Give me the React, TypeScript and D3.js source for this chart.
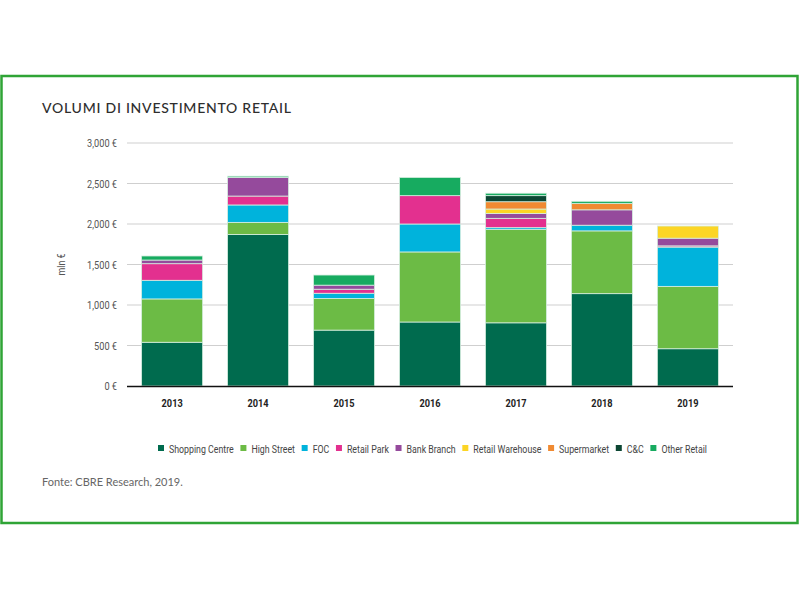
import React, { useEffect, useRef } from "react";
import * as d3 from "d3";

const years = ["2013", "2014", "2015", "2016", "2017", "2018", "2019"];
const seriesNames = [
  "Shopping Centre",
  "High Street",
  "FOC",
  "Retail Park",
  "Bank Branch",
  "Retail Warehouse",
  "Supermarket",
  "C&C",
  "Other Retail",
];
const seriesColors = [
  "#006b4e",
  "#6cbb45",
  "#00b3dc",
  "#e3308f",
  "#954a9c",
  "#fcd525",
  "#f08a32",
  "#0c4633",
  "#17ab60",
];
const shoppingCentre = [540, 1870, 690, 790, 780, 1140, 460];
const highStreet = [535, 150, 390, 865, 1155, 775, 770];
const foc = [230, 215, 65, 345, 20, 70, 485];
const retailPark = [205, 110, 50, 350, 115, 0, 15];
const bankBranch = [45, 230, 50, 0, 60, 190, 95];
const retailWarehouse = [0, 0, 0, 0, 55, 0, 150];
const supermarket = [0, 0, 0, 0, 90, 80, 0];
const cAndC = [0, 0, 0, 0, 75, 0, 0];
const otherRetail = [50, 15, 125, 225, 30, 25, 0];
const yTicks = [0, 500, 1000, 1500, 2000, 2500, 3000];

const allSeries = [
  shoppingCentre,
  highStreet,
  foc,
  retailPark,
  bankBranch,
  retailWarehouse,
  supermarket,
  cAndC,
  otherRetail,
];

const narrow = "Roboto, 'Noto Sans', sans-serif";
const SQ = 0.8; // horizontal squeeze for condensed look

export default function App() {
  const ref = useRef<SVGSVGElement>(null);

  useEffect(() => {
    const svg = d3.select(ref.current);
    svg.selectAll("*").remove();

    svg.append("rect").attr("width", 800).attr("height", 600).attr("fill", "#fff");
    svg
      .append("rect")
      .attr("x", 1.5)
      .attr("y", 76)
      .attr("width", 796)
      .attr("height", 447)
      .attr("fill", "none")
      .attr("stroke", "#2fa436")
      .attr("stroke-width", 2.5);

    svg
      .append("text")
      .attr("x", 42)
      .attr("y", 113)
      .attr("font-family", "Lato, 'Noto Sans', sans-serif")
      .attr("font-size", 14)
      .attr("font-weight", 500)
      .attr("letter-spacing", 0.75)
      .attr("fill", "#2e2e2e")
      .text("VOLUMI DI INVESTIMENTO RETAIL");

    const x0 = 127,
      x1 = 733,
      yTop = 143,
      yBottom = 386;
    const x = d3.scaleBand().domain(years).range([x0, x1]).paddingInner(0.29).paddingOuter(0.17);
    const y = d3.scaleLinear().domain([0, 3000]).range([yBottom, yTop]);

    const narrowText = (
      parent: d3.Selection<any, any, any, any>,
      tx: number,
      ty: number,
      txt: string,
      size: number,
      fill: string,
      anchor = "start",
      weight = "normal"
    ) =>
      parent
        .append("text")
        .attr("transform", `translate(${tx},${ty}) scale(${SQ},1)`)
        .attr("text-anchor", anchor)
        .attr("font-family", narrow)
        .attr("font-size", size)
        .attr("font-weight", weight)
        .attr("fill", fill)
        .text(txt);

    svg
      .append("g")
      .selectAll("line")
      .data(yTicks.filter((t) => t > 0))
      .join("line")
      .attr("x1", x0)
      .attr("x2", x1)
      .attr("y1", (d) => y(d))
      .attr("y2", (d) => y(d))
      .attr("stroke", "#cfcfcf")
      .attr("stroke-width", 1);

    const yl = svg.append("g");
    yTicks.forEach((t) =>
      narrowText(yl, 117, y(t) + 4, d3.format(",")(t) + " €", 11.5, "#555", "end")
    );

    svg
      .append("text")
      .attr("transform", `translate(65,${y(1500)}) rotate(-90) scale(${SQ},1)`)
      .attr("text-anchor", "middle")
      .attr("font-family", narrow)
      .attr("font-size", 11)
      .attr("fill", "#555")
      .text("mln €");

    const table = years.map((yr, i) => {
      const row: Record<string, number | string> = { year: yr };
      seriesNames.forEach((s, k) => (row[s] = allSeries[k][i]));
      return row;
    });
    const stack = d3.stack<any>().keys(seriesNames)(table as any);

    const g = svg.append("g");
    stack.forEach((layer, k) => {
      g.append("g")
        .selectAll("rect")
        .data(layer.filter((d) => d[1] - d[0] > 0))
        .join("rect")
        .attr("x", (d) => x(d.data.year as string)!)
        .attr("width", x.bandwidth())
        .attr("y", (d) => y(d[1]))
        .attr("height", (d) => y(d[0]) - y(d[1]))
        .attr("fill", seriesColors[k])
        .attr("stroke", "#d6eee0")
        .attr("stroke-width", 0.8);
    });

    svg
      .append("line")
      .attr("x1", x0)
      .attr("x2", x1)
      .attr("y1", yBottom + 0.5)
      .attr("y2", yBottom + 0.5)
      .attr("stroke", "#111")
      .attr("stroke-width", 1.6);

    const xl = svg.append("g");
    years.forEach((yr) =>
      narrowText(xl, x(yr)! + x.bandwidth() / 2, 407, yr, 11.5, "#222", "middle", "bold")
    );

    const leg = svg.append("g");
    const texts = seriesNames.map((name) =>
      narrowText(leg, 0, 452, name, 11, "#444")
    );
    const widths = texts.map((t) => (t.node() as SVGTextElement).getComputedTextLength() * SQ);
    const start = 158,
      end = 707;
    const itemW = widths.map((w) => 6 + 5 + w);
    const gap = (end - start - d3.sum(itemW)) / (seriesNames.length - 1);
    let lx = start;
    seriesNames.forEach((name, k) => {
      leg
        .append("rect")
        .attr("x", lx)
        .attr("y", 445)
        .attr("width", 6)
        .attr("height", 6)
        .attr("fill", seriesColors[k]);
      texts[k].attr("transform", `translate(${lx + 11},452.5) scale(${SQ},1)`);
      lx += itemW[k] + gap;
    });

    svg
      .append("text")
      .attr("x", 42)
      .attr("y", 486)
      .attr("font-family", "Lato, 'Noto Sans', sans-serif")
      .attr("font-size", 11)
      .attr("fill", "#666")
      .text("Fonte: CBRE Research, 2019.");
  }, []);

  return (
    <svg
      ref={ref}
      width={800}
      height={600}
      style={{ position: "absolute", left: 0, top: 0 }}
    />
  );
}
